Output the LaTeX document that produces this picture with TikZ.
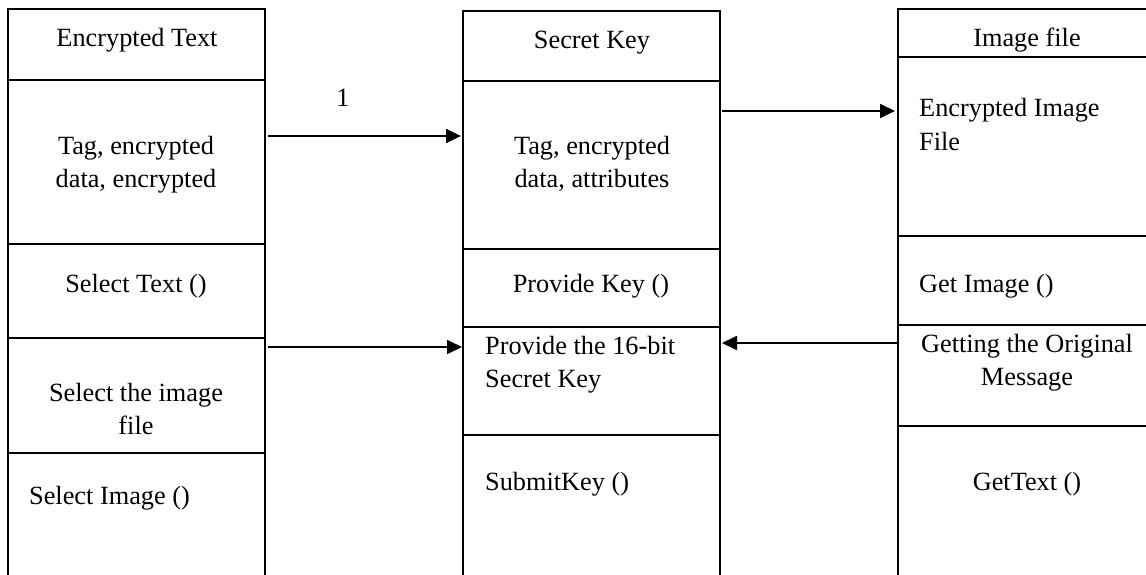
\documentclass[tikz,border=0pt]{standalone}
\usepackage{fontspec}
\setmainfont{Liberation Serif}
\usetikzlibrary{arrows.meta}
\tikzset{
  comp/.style={draw, line width=1.8pt, inner sep=0pt, outer sep=0pt, anchor=north west, minimum width=257pt},
  txt/.style={inner sep=0pt, font=\fontsize{26.3}{33}\selectfont},
  arr/.style={line width=1.8pt, -{Triangle[length=15pt,width=14pt]}}
}
\begin{document}
\begin{tikzpicture}[x=1pt,y=-1pt]
\clip (0,0) rectangle (1146,575);
\fill[white] (0,0) rectangle (1146,575);
% left column
\node[comp, minimum height=71pt]  (lt1) at (8,9)   {};
\node[comp, minimum height=164pt] (lt2) at (8,80)  {};
\node[comp, minimum height=94pt]  (lt3) at (8,244) {};
\node[comp, minimum height=115pt] (lt4) at (8,338) {};
\node[comp, minimum height=137pt] (lt5) at (8,453) {};
% middle column
\node[comp, minimum height=70pt]  (mk1) at (463,11)  {};
\node[comp, minimum height=168pt] (mk2) at (463,81)  {};
\node[comp, minimum height=78pt]  (mk3) at (463,249) {};
\node[comp, minimum height=108pt] (mk4) at (463,327) {};
\node[comp, minimum height=155pt] (mk5) at (463,435) {};
% right column
\node[comp, minimum width=260pt, minimum height=48pt]  (ri1) at (898,9)   {};
\node[comp, minimum width=260pt, minimum height=179pt] (ri2) at (898,57)  {};
\node[comp, minimum width=260pt, minimum height=89pt]  (ri3) at (898,236) {};
\node[comp, minimum width=260pt, minimum height=101pt] (ri4) at (898,325) {};
\node[comp, minimum width=260pt, minimum height=164pt] (ri5) at (898,426) {};
% texts left (multi-line nodes: base = last line)
\node[txt, anchor=base] (tl1) at (137,47) {Encrypted Text};
\node[txt, anchor=base, align=center] (tl2) at (136,187) {Tag, encrypted\\data, encrypted};
\node[txt, anchor=base] (tl3) at (136,292) {Select Text ()};
\node[txt, anchor=base, align=center] (tl4) at (136,434) {Select the image\\file};
\node[txt, anchor=base west] (tl5) at (29,504) {Select Image ()};
% texts middle
\node[txt, anchor=base] (tm1) at (592,49) {Secret Key};
\node[txt, anchor=base, align=center] (tm2) at (592,187) {Tag, encrypted\\data, attributes};
\node[txt, anchor=base] (tm3) at (591,292) {Provide Key ()};
\node[txt, anchor=base west, align=left] (tm4) at (485,387) {Provide the 16-bit\\Secret Key};
\node[txt, anchor=base west] (tm5) at (485,490) {SubmitKey ()};
% texts right
\node[txt, anchor=base] (tr1) at (1027,47) {Image file};
\node[txt, anchor=base west, align=left] (tr2) at (919,150) {Encrypted Image\\File};
\node[txt, anchor=base west] (tr3) at (919,292) {Get Image ()};
\node[txt, anchor=base, align=center] (tr4) at (1027,385) {Getting the Original\\Message};
\node[txt, anchor=base] (tr5) at (1027,490) {GetText ()};
% label
\node[txt, anchor=base] (n1) at (343,107) {1};
% connectors
\draw[arr, shorten >=2pt] ([shift={(3,-26)}]lt2.east) coordinate (s1) -- (s1 -| mk2.west);
\draw[arr, shorten >=3pt] ([shift={(2,-54)}]mk2.east) coordinate (s2) -- (s2 -| ri2.west);
\draw[arr, shorten >=1pt] ([shift={(3,-48.5)}]lt4.east) coordinate (s3) -- (s3 -| mk4.west);
\draw[arr, shorten >=2pt] ([shift={(0,-32.5)}]ri4.west) coordinate (s4) -- (s4 -| mk4.east);
\end{tikzpicture}
\end{document}
